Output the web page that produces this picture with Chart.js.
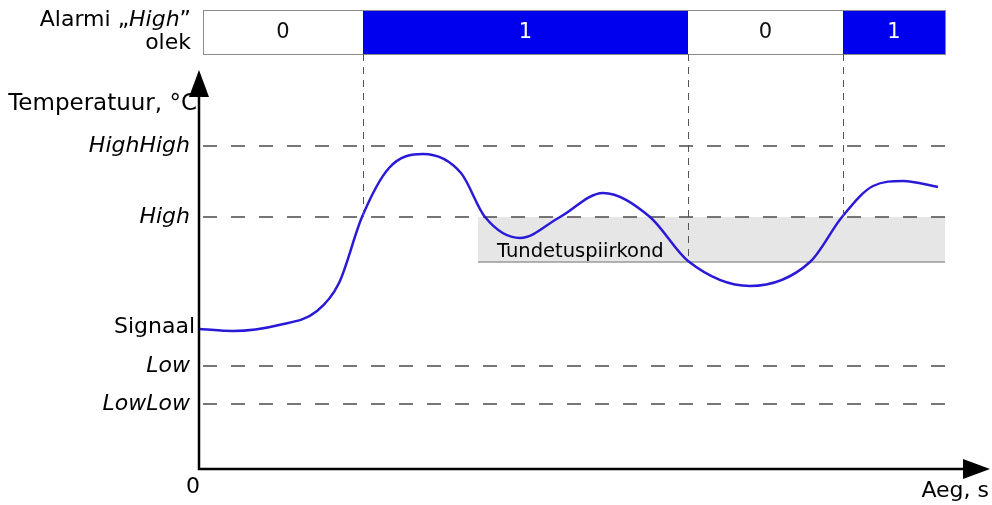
<!DOCTYPE html>
<html>
<head>
<meta charset="utf-8">
<script src="https://cdn.jsdelivr.net/npm/chart.js@4.4.1/dist/chart.umd.min.js"></script>
<style>
  body { margin: 0; background: #fff; }
  #wrap { width: 992px; height: 505px; }
</style>
</head>
<body>
<div id="wrap"><canvas id="alarmChart" width="992" height="505"></canvas></div>
<script>
// signal (time, temperature)
var signalTime = [1, 34, 80, 118, 140, 163, 190, 224, 262, 286, 321, 361, 404, 451, 489, 551, 611, 643, 674, 704, 739];
var signalTemp = [140, 138, 144, 158, 186, 252, 301, 315, 296, 252, 231, 252, 276, 252, 208, 183, 207, 252, 283, 288, 282];

// alarm limits
var limitNames = ['HighHigh', 'High', 'Low', 'LowLow'];
var limitValues = [323, 252, 103, 65];
var signalStart = 142;
var deadbandLow = 207;
var deadbandStart = 279;
var lineStart = 4;
var lineEnd = 746;

// alarm "High" state: switch times and states
var alarmTimes = [4, 164, 489, 644, 746];
var alarmStates = [0, 1, 0, 1];
var switchLevels = [252, 207, 252];

var datasets = [];
datasets.push({
  label: 'Signaal',
  data: signalTime.map(function (t, i) { return { x: t, y: signalTemp[i] }; }),
  borderColor: '#2a1ad8',
  borderWidth: 2.5,
  pointRadius: 0,
  cubicInterpolationMode: 'monotone',
  fill: false,
  order: 0
});
// deadband
datasets.push({
  label: 'band bottom',
  data: [{ x: deadbandStart, y: deadbandLow }, { x: lineEnd, y: deadbandLow }],
  borderColor: '#9a9a9a',
  borderWidth: 1.5,
  pointRadius: 0,
  fill: false,
  order: 5
});
datasets.push({
  label: 'band top',
  data: [{ x: deadbandStart, y: limitValues[1] }, { x: lineEnd, y: limitValues[1] }],
  borderWidth: 0,
  borderColor: 'rgba(0,0,0,0)',
  backgroundColor: '#e6e6e6',
  pointRadius: 0,
  fill: '-1',
  order: 6
});
limitNames.forEach(function (n, i) {
  datasets.push({
    label: n,
    data: [{ x: lineStart, y: limitValues[i] }, { x: lineEnd, y: limitValues[i] }],
    borderColor: '#555',
    borderWidth: 1.6,
    borderDash: [14, 14],
    pointRadius: 0,
    fill: false,
    order: 2
  });
});

function drawArrow(c, x, y, dir) {
  c.beginPath();
  if (dir === 'up') {
    c.moveTo(x, y); c.lineTo(x - 10, y + 27); c.lineTo(x + 10, y + 27);
  } else {
    c.moveTo(x, y); c.lineTo(x - 27, y - 10); c.lineTo(x - 27, y + 10);
  }
  c.closePath();
  c.fill();
}

var decorPlugin = {
  id: 'decor',
  afterDatasetsDraw: function (chart) {
    var c = chart.ctx, xs = chart.scales.x, ys = chart.scales.y, a = chart.chartArea;
    var font = '"DejaVu Sans", Verdana, sans-serif';
    c.save();

    // alarm state bar
    var barTop = 10, barBot = 54;
    for (var i = 0; i < alarmStates.length; i++) {
      var x0 = xs.getPixelForValue(alarmTimes[i]);
      var x1 = xs.getPixelForValue(alarmTimes[i + 1]);
      c.fillStyle = alarmStates[i] ? '#0000ee' : '#fff';
      c.fillRect(x0, barTop, x1 - x0, barBot - barTop);
      c.fillStyle = alarmStates[i] ? '#fff' : '#111';
      c.font = '21px ' + font;
      c.textAlign = 'center';
      c.textBaseline = 'middle';
      c.fillText(String(alarmStates[i]), (x0 + x1) / 2, (barTop + barBot) / 2 + 1);
    }
    c.strokeStyle = '#8a8a8a';
    c.lineWidth = 1;
    var bx0 = xs.getPixelForValue(alarmTimes[0]);
    var bx1 = xs.getPixelForValue(alarmTimes[alarmTimes.length - 1]);
    c.strokeRect(bx0 + 0.5, barTop + 0.5, bx1 - bx0, barBot - barTop);

    // vertical switch lines
    c.strokeStyle = '#555';
    c.lineWidth = 1;
    c.setLineDash([7, 6]);
    for (var k = 0; k < switchLevels.length; k++) {
      var sx = Math.round(xs.getPixelForValue(alarmTimes[k + 1])) + 0.5;
      c.beginPath();
      c.moveTo(sx, barBot);
      c.lineTo(sx, ys.getPixelForValue(switchLevels[k]));
      c.stroke();
    }
    c.setLineDash([]);

    // axes
    c.strokeStyle = '#000';
    c.fillStyle = '#000';
    c.lineWidth = 2.5;
    c.beginPath();
    c.moveTo(a.left, a.top + 20);
    c.lineTo(a.left, a.bottom);
    c.lineTo(a.right - 20, a.bottom);
    c.stroke();
    drawArrow(c, a.left, a.top, 'up');
    drawArrow(c, a.right, a.bottom, 'right');

    // limit labels
    c.textAlign = 'right';
    c.textBaseline = 'middle';
    c.font = 'italic 22px ' + font;
    limitNames.forEach(function (n, i) {
      c.fillText(n, a.left - 9, ys.getPixelForValue(limitValues[i]));
    });
    c.font = '22px ' + font;
    c.fillText('Signaal', a.left - 4, ys.getPixelForValue(signalStart));
    c.font = '23px ' + font;
    c.fillText('Temperatuur, \u00B0C', a.left - 2, 104);

    // deadband label
    c.textAlign = 'left';
    c.font = '19.5px ' + font;
    c.fillText('Tundetuspiirkond', xs.getPixelForValue(deadbandStart) + 19, ys.getPixelForValue(deadbandLow) - 10);

    // axis labels
    c.textAlign = 'center';
    c.font = '22px ' + font;
    c.fillText('0', a.left - 6, a.bottom + 18);
    c.textAlign = 'right';
    c.fillText('Aeg, s', 989, a.bottom + 22);

    // bar title: Alarmi „High" olek
    c.font = '22px ' + font;
    var q = '\u201D';
    var qw = c.measureText(q).width;
    c.font = 'italic 22px ' + font;
    var hw = c.measureText('High').width;
    c.font = '22px ' + font;
    var right = 191;
    c.fillText(q, right, 20);
    c.font = 'italic 22px ' + font;
    c.fillText('High', right - qw, 20);
    c.font = '22px ' + font;
    c.fillText('Alarmi \u201E', right - qw - hw, 20);
    c.fillText('olek', right, 43);

    c.restore();
  }
};

new Chart(document.getElementById('alarmChart').getContext('2d'), {
  type: 'line',
  data: { datasets: datasets },
  options: {
    responsive: false,
    animation: false,
    layout: { padding: { left: 199, right: 2, top: 70, bottom: 36 } },
    plugins: { legend: { display: false }, tooltip: { enabled: false } },
    scales: {
      x: { type: 'linear', display: false, min: 0, max: 791 },
      y: { type: 'linear', display: false, min: 0, max: 399 }
    }
  },
  plugins: [decorPlugin]
});
</script>
</body>
</html>
